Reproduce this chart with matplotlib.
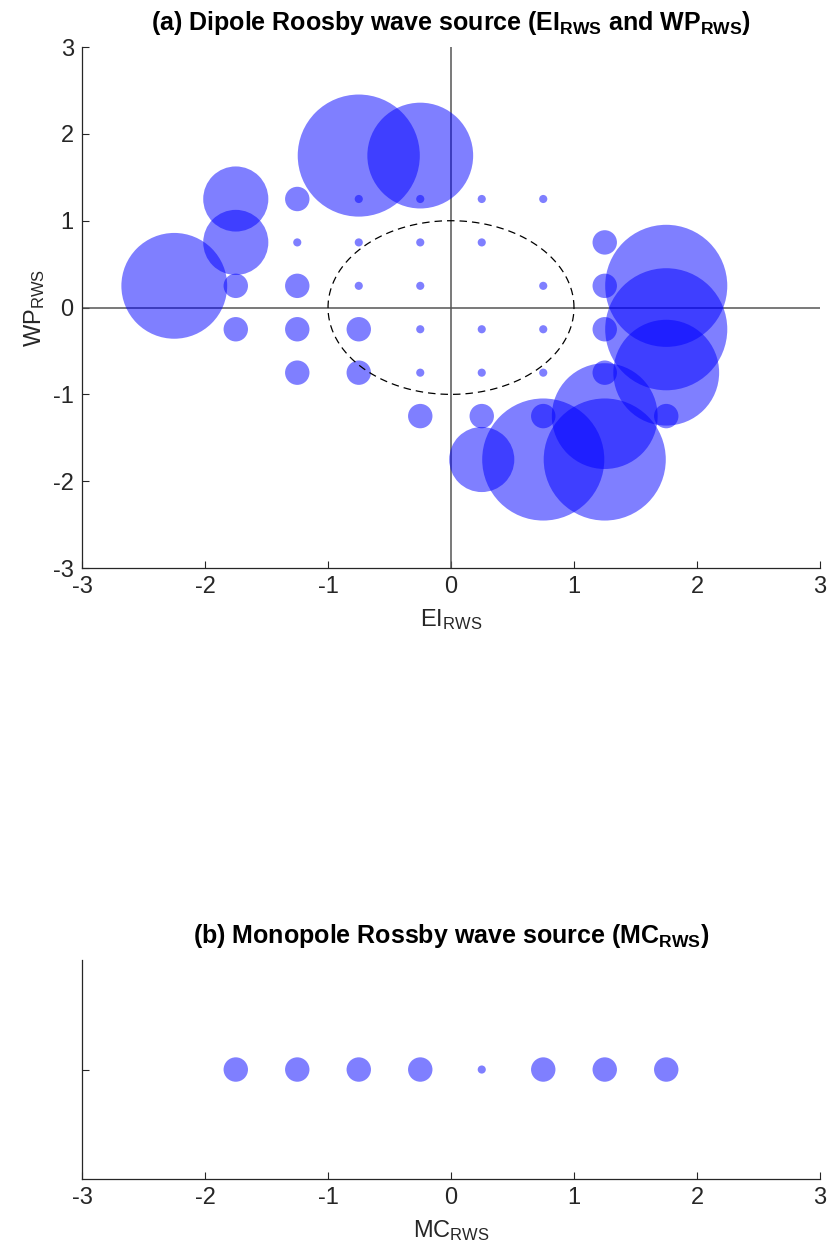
import numpy as np
import matplotlib.pyplot as plt

plt.rcParams["font.family"] = ["Liberation Sans", "DejaVu Sans"]
plt.rcParams["mathtext.fontset"] = "custom"
plt.rcParams["mathtext.rm"] = "Liberation Sans"
plt.rcParams["mathtext.bf"] = "Liberation Sans:bold"
plt.rcParams["mathtext.default"] = "regular"
plt.rcParams["axes.unicode_minus"] = False

# bin centres (EI_RWS, WP_RWS) and number of events per bin
ei = [-0.75, -0.25,
      -1.75, -1.25, -0.75, -0.25, 0.25, 0.75,
      -1.75, -1.25, -0.75, -0.25, 0.25, 1.25,
      -2.25, -1.75, -1.25, -0.75, -0.25, 0.75, 1.25, 1.75,
      -1.75, -1.25, -0.75, -0.25, 0.25, 0.75, 1.25, 1.75,
      -1.25, -0.75, -0.25, 0.25, 0.75, 1.25, 1.75,
      -0.25, 0.25, 0.75, 1.25, 1.75,
      0.25, 0.75, 1.25]
wp = [1.75, 1.75,
      1.25, 1.25, 1.25, 1.25, 1.25, 1.25,
      0.75, 0.75, 0.75, 0.75, 0.75, 0.75,
      0.25, 0.25, 0.25, 0.25, 0.25, 0.25, 0.25, 0.25,
      -0.25, -0.25, -0.25, -0.25, -0.25, -0.25, -0.25, -0.25,
      -0.75, -0.75, -0.75, -0.75, -0.75, -0.75, -0.75,
      -1.25, -1.25, -1.25, -1.25, -1.25,
      -1.75, -1.75, -1.75]
n_dipole = [15, 13,
            8, 3, 1, 1, 1, 1,
            8, 1, 1, 1, 1, 3,
            13, 3, 3, 1, 1, 1, 3, 15,
            3, 3, 3, 1, 1, 1, 3, 15,
            3, 3, 1, 1, 1, 3, 13,
            3, 3, 3, 13, 3,
            8, 15, 15]

mc = [-1.75, -1.25, -0.75, -0.25, 0.25, 0.75, 1.25, 1.75]
n_mono = [3, 3, 3, 3, 1, 3, 3, 3]

ticks = [-3, -2, -1, 0, 1, 2, 3]
threshold = 1.0


def marker_area(counts):
    # marker diameter grows linearly with the count
    return (5.86 * np.asarray(counts)) ** 2


def style_axes(ax):
    for side in ("top", "right"):
        ax.spines[side].set_visible(False)
    for side in ("left", "bottom"):
        ax.spines[side].set_color("#262626")
        ax.spines[side].set_linewidth(0.9)
    ax.tick_params(direction="in", length=5, width=0.8, colors="#262626",
                   labelsize=17, pad=6)


fig = plt.figure(figsize=(8.27, 12.54), dpi=100)

ax1 = fig.add_axes([0.0992, 0.547, 0.8923, 0.4155])
ax1.scatter(ei, wp, s=marker_area(n_dipole), color="blue", alpha=0.5,
            linewidths=0, zorder=3)
ax1.axhline(0, color="#555555", lw=1.1, zorder=2)
ax1.axvline(0, color="#555555", lw=1.1, zorder=2)
t = np.linspace(0, 2 * np.pi, 400)
ax1.plot(threshold * np.cos(t), threshold * np.sin(t), ls=(0, (6, 4)),
         color="black", lw=0.9, zorder=4)
ax1.set_xlim(-3, 3)
ax1.set_ylim(-3, 3)
ax1.set_xticks(ticks)
ax1.set_yticks(ticks)
style_axes(ax1)
ax1.set_xlabel("EI$_{RWS}$", fontsize=17, color="#262626", labelpad=6)
ax1.set_ylabel("WP$_{RWS}$", fontsize=17, color="#262626", labelpad=4)
ax1.set_title(r"(a) Dipole Roosby wave source (EI$_{\mathbf{RWS}}$ and WP$_{\mathbf{RWS}}$)",
              fontsize=18, fontweight="bold", pad=12)

ax2 = fig.add_axes([0.0992, 0.0598, 0.8923, 0.1746])
ax2.scatter(mc, [1] * len(mc), s=marker_area(n_mono), color="blue", alpha=0.5,
            linewidths=0, zorder=3)
ax2.set_xlim(-3, 3)
ax2.set_ylim(0, 2)
ax2.set_xticks(ticks)
ax2.set_yticks([1])
ax2.set_yticklabels([""])
style_axes(ax2)
ax2.set_xlabel("MC$_{RWS}$", fontsize=17, color="#262626", labelpad=6)
ax2.set_title(r"(b) Monopole Rossby wave source (MC$_{\mathbf{RWS}}$)",
              fontsize=18, fontweight="bold", pad=12)

fig.savefig("out.png", dpi=100)
plt.close(fig)
